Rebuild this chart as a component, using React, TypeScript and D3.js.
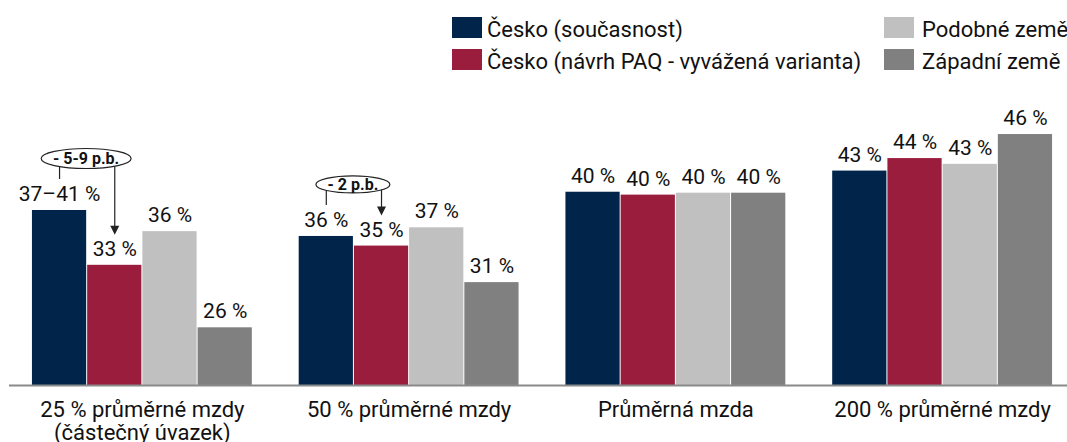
import React from "react";
import * as d3 from "d3";

const categories = ["25 % průměrné mzdy|(částečný úvazek)", "50 % průměrné mzdy", "Průměrná mzda", "200 % průměrné mzdy"];
const seriesNames = ["Česko (současnost)", "Česko (návrh PAQ - vyvážená varianta)", "Podobné země", "Západní země"];
const seriesColors = ["#00244a", "#9a1d3d", "#c0c0c0", "#808080"];
const currentCZ = [38.2, 35.5, 40.1, 42.3];
const proposalCZ = [32.5, 34.5, 39.8, 43.6];
const similar = [36.0, 36.4, 40.0, 43.0];
const western = [26.0, 30.7, 40.0, 46.1];
const labelsCurrent = ["37–41 %", "36 %", "40 %", "43 %"];
const labelsProposal = ["33 %", "35 %", "40 %", "44 %"];
const labelsSimilar = ["36 %", "37 %", "40 %", "43 %"];
const labelsWestern = ["26 %", "31 %", "40 %", "46 %"];
const annotations = [
  { cat: 0, text: "- 5-9 p.b." },
  { cat: 1, text: "- 2 p.b." },
];

const W = 1067;
const H = 442;
const FONT = "Roboto, sans-serif";

export default function App() {
  const series = [currentCZ, proposalCZ, similar, western];
  const labels = [labelsCurrent, labelsProposal, labelsSimilar, labelsWestern];
  const x0 = d3.scaleBand<number>().domain(d3.range(categories.length)).range([9, 1076]).paddingInner(0.172).paddingOuter(0.086);
  const x1 = d3.scaleBand<number>().domain(d3.range(series.length)).range([0, x0.bandwidth()]);
  const y = d3.scaleLinear().domain([20, 46]).range([385, 135]);
  const baseY = y(20);

  const legendPos = [
    { x: 452, y: 17 },
    { x: 452, y: 49 },
    { x: 884, y: 17 },
    { x: 884, y: 49 },
  ];

  return (
    <svg width={W} height={H} style={{ display: "block", position: "absolute", left: 0, top: 0 }} fontFamily={FONT}>
      {/* legend */}
      {seriesNames.map((n, i) => (
        <g key={n}>
          <rect x={legendPos[i].x} y={legendPos[i].y} width={30} height={21} fill={seriesColors[i]} />
          <text x={legendPos[i].x + (i < 2 ? 35 : 38)} y={legendPos[i].y + 20} fontSize={22} fill="#111">{n}</text>
        </g>
      ))}
      {/* bars */}
      {categories.map((c, ci) => (
        <g key={c} transform={`translate(${x0(ci)},0)`}>
          {series.map((s, si) => {
            const bx = x1(si)!;
            const top = y(s[ci]);
            return (
              <g key={si}>
                <rect x={bx} y={top} width={x1.bandwidth() - 1} height={baseY - top} fill={seriesColors[si]} />
                <text x={bx + x1.bandwidth() / 2} y={top - 9} textAnchor="middle" fontSize={21} fill="#111">{labels[si][ci]}</text>
              </g>
            );
          })}
        </g>
      ))}
      {/* annotations */}
      {annotations.map((a) => {
        const gx = x0(a.cat)!;
        const lx = gx + x1(0)! + x1.bandwidth() / 2;
        const rx = gx + x1(1)! + x1.bandwidth() / 2;
        const ltop = y(currentCZ[a.cat]) - 31;
        const rtop = y(proposalCZ[a.cat]) - 30;
        const cx = (lx + rx) / 2 - 1;
        const big = a.cat === 0;
        const rxE = big ? 45 : 37;
        const ryE = big ? 10 : 8.5;
        const cy = ltop - 20.5;
        const yEdge = cy + Math.sqrt(Math.max(0, 1 - ((rx - cx) / rxE) ** 2)) * ryE;
        return (
          <g key={a.cat}>
            <line x1={lx} x2={lx} y1={cy + Math.sqrt(Math.max(0, 1 - ((lx - cx) / rxE) ** 2)) * ryE} y2={ltop} stroke="#222" strokeWidth={1.2} />
            <line x1={rx} x2={rx} y1={yEdge} y2={rtop - 8} stroke="#222" strokeWidth={1.2} />
            <path d={`M${rx - 4.5},${rtop - 9} L${rx + 4.5},${rtop - 9} L${rx},${rtop} Z`} fill="#222" />
            <ellipse cx={cx} cy={cy} rx={rxE} ry={ryE} fill="#fff" stroke="#222" strokeWidth={1.2} />
            <text x={cx} y={cy + 5.5} textAnchor="middle" fontSize={16} fontWeight="bold" fill="#111">{a.text}</text>
          </g>
        );
      })}
      {/* axis */}
      <line x1={9} x2={W} y1={baseY + 0.5} y2={baseY + 0.5} stroke="#8a8a8a" strokeWidth={2} />
      {categories.map((c, ci) => {
        const cx = x0(ci)! + x0.bandwidth() / 2;
        return (
          <text key={c} x={cx} textAnchor="middle" fontSize={22} fill="#111">
            {c.split("|").map((line, li) => (
              <tspan key={li} x={cx} y={417 + li * 22.5}>{line}</tspan>
            ))}
          </text>
        );
      })}
    </svg>
  );
}
